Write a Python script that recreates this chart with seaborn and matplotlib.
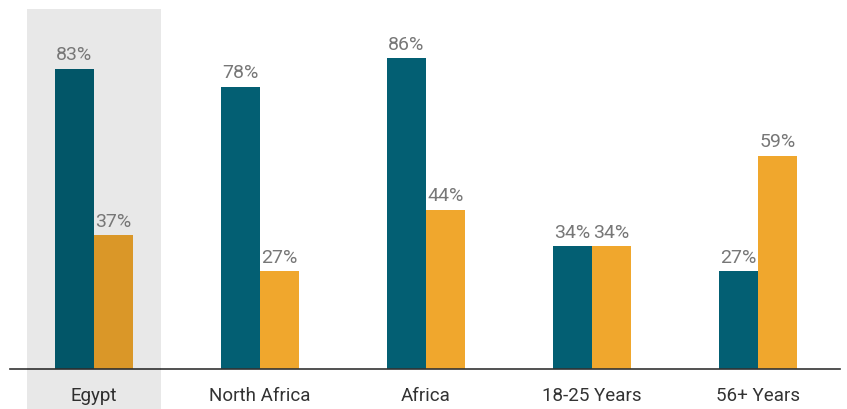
import pandas as pd
import matplotlib
matplotlib.use("Agg")
import matplotlib.pyplot as plt
import matplotlib.transforms as mtransforms
from matplotlib.patches import Rectangle
import seaborn as sns

# values
categories = ["Egypt", "North Africa", "Africa", "18-25 Years", "56+ Years"]
series_a = [83, 78, 86, 34, 27]
series_b = [37, 27, 44, 34, 59]
series_names = ["Series A", "Series B"]
highlight = "Egypt"

df = pd.DataFrame({
    "category": categories * 2,
    "series": [series_names[0]] * len(categories) + [series_names[1]] * len(categories),
    "value": series_a + series_b,
})

sns.set_theme(style="white")
plt.rcParams["font.family"] = ["Roboto", "DejaVu Sans"]

fig = plt.figure(figsize=(8.47, 4.10), dpi=100)
ax = fig.add_axes([10 / 847, 40 / 410, 830 / 847, 361.5 / 410])

sns.barplot(
    data=df, x="category", y="value", hue="series", order=categories,
    hue_order=series_names, palette=["#035F73", "#F0A72D"],
    width=0.47, saturation=1, linewidth=0, legend=False, ax=ax,
)

for cont in ax.containers:
    ax.bar_label(cont, labels=[f"{v:.0f}%" for v in cont.datavalues],
                 padding=4, color="#777777", fontsize=14, zorder=4)

# grey highlight band behind the selected category, running past the axis
trans = mtransforms.blended_transform_factory(ax.transData, fig.transFigure)
i = categories.index(highlight)
ax.add_patch(Rectangle((i - 0.405, 0), 0.81, 400 / 410, transform=trans,
                       facecolor="black", alpha=0.09, edgecolor="none",
                       clip_on=False, zorder=3))

ax.set_xlim(-0.506, len(categories) - 0.506)
ax.set_ylim(0, 100)
ax.set_xlabel("")
ax.set_ylabel("")
ax.set_yticks([])
ax.tick_params(axis="x", length=0, pad=12, labelsize=13.5, labelcolor="#333333")
sns.despine(ax=ax, left=True)
ax.spines["bottom"].set_color("#333333")
ax.spines["bottom"].set_linewidth(1.2)

fig.savefig("out.png", dpi=100)
